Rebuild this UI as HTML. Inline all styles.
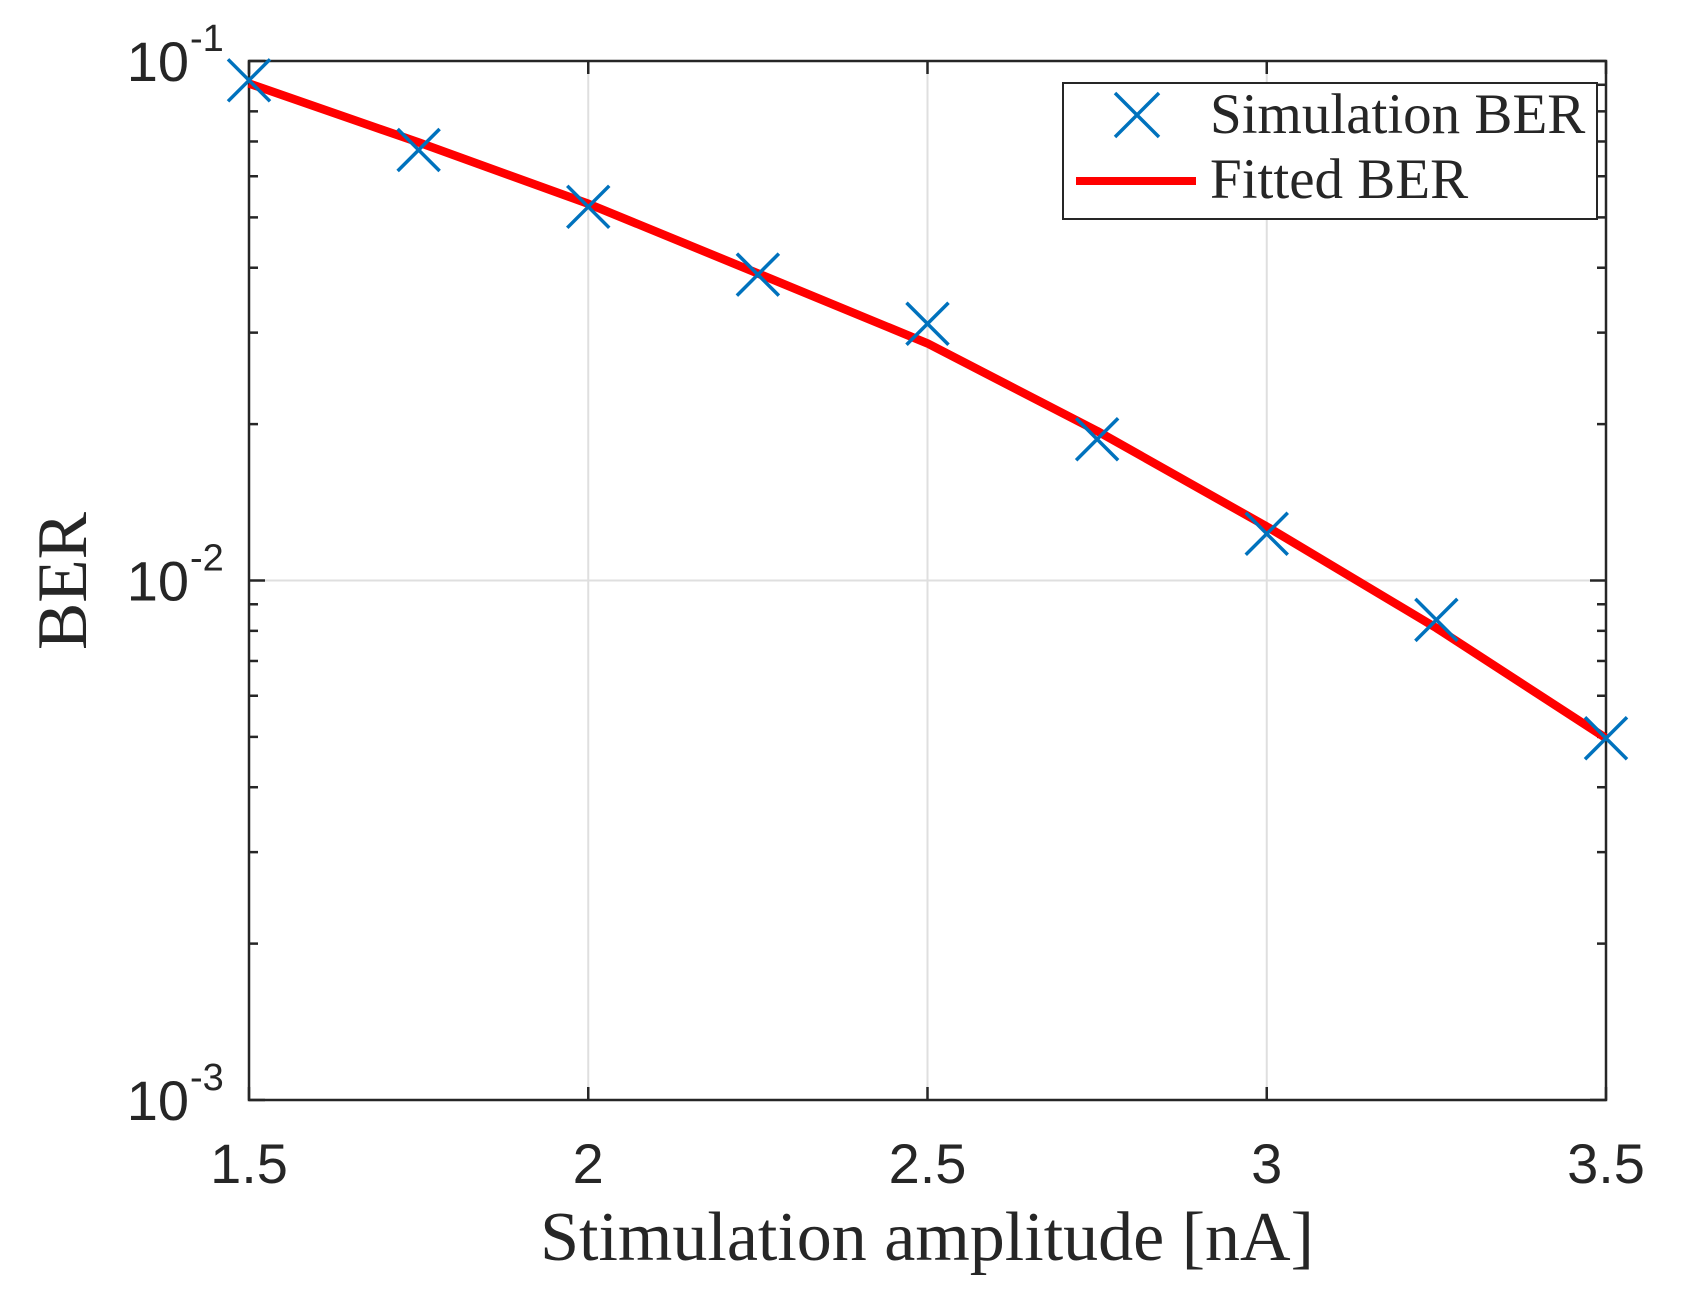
<!DOCTYPE html>
<html><head><meta charset="utf-8">
<style>
html,body{margin:0;padding:0;background:#fff;}
svg{display:block;}
.tick{font-family:"Liberation Sans",sans-serif;fill:#262626;}
.serif{font-family:"Liberation Serif",serif;fill:#262626;}
</style></head>
<body>
<svg id="chart" width="1682" height="1297" viewBox="0 0 1682 1297" xmlns="http://www.w3.org/2000/svg">
<rect width="1682" height="1297" fill="#fff"/>
<g id="grid"></g>
<g id="axes"></g>
<g id="series"></g>
<text class="serif" x="927" y="1260" font-size="70" text-anchor="middle">Stimulation amplitude [nA]</text>
<text class="serif" x="0" y="0" font-size="71" text-anchor="middle" transform="translate(86,581) rotate(-90)">BER</text>
<g>
<rect x="1063" y="83" width="534" height="136" fill="#fff" stroke="#262626" stroke-width="2"/>
<g>
<path d="M1115,93 L1159,137 M1115,137 L1159,93" stroke="#0072BD" stroke-width="3.5" fill="none"/>
<text class="serif" x="1210" y="133" font-size="57">Simulation BER</text>
</g>
<g>
<line x1="1076" y1="181" x2="1196" y2="181" stroke="#FF0000" stroke-width="8"/>
<text class="serif" x="1210" y="198" font-size="57">Fitted BER</text>
</g>
</g>
</svg>
<script>
const xCats = [1.5, 1.75, 2.0, 2.25, 2.5, 2.75, 3.0, 3.25, 3.5];
const simBER = [0.0918, 0.0674, 0.0524, 0.0388, 0.0312, 0.0187, 0.0123, 0.0084, 0.00497];
const fitBER = [0.0905, 0.0697, 0.0531, 0.039, 0.0286, 0.0194, 0.0127, 0.0081, 0.00497];
const xTicks = [1.5, 2, 2.5, 3, 3.5];
const xTickLabels = ["1.5", "2", "2.5", "3", "3.5"];
const yExps = [-1, -2, -3];

const L = 249, R = 1606, T = 61, B = 1100;
const xMin = 1.5, xMax = 3.5, yMinE = -3, yMaxE = -1;
function xs(v){ return L + (v - xMin) / (xMax - xMin) * (R - L); }
function ys(v){ return B - (Math.log10(v) - yMinE) / (yMaxE - yMinE) * (B - T); }
const NS = "http://www.w3.org/2000/svg";
function mk(tag, attrs, parent){ const e = document.createElementNS(NS, tag); for (const k in attrs) e.setAttribute(k, attrs[k]); parent.appendChild(e); return e; }
const grid = document.getElementById('grid'), axes = document.getElementById('axes'), series = document.getElementById('series');
const ax = '#262626';

xTicks.forEach((t, i) => {
  if (t === xMin || t === xMax) return;
  const g = mk('line', {x1: xs(t), x2: xs(t), y1: T, y2: B, stroke: '#dfdfdf', 'stroke-width': 2}, grid);
  
  
});
yExps.forEach(e => {
  const v = Math.pow(10, e);
  if (e === yMinE || e === yMaxE) return;
  const g = mk('line', {x1: L, x2: R, y1: ys(v), y2: ys(v), stroke: '#dfdfdf', 'stroke-width': 2}, grid);
  
  
});

const box = mk('rect', {x: L, y: T, width: R - L, height: B - T, fill: 'none', stroke: ax, 'stroke-width': 2.5}, axes);



xTicks.forEach((t, i) => {
  const x = xs(t);
  mk('line', {x1: x, x2: x, y1: B, y2: B - 13, stroke: ax, 'stroke-width': 2.5}, axes);
  mk('line', {x1: x, x2: x, y1: T, y2: T + 13, stroke: ax, 'stroke-width': 2.5}, axes);
  const lb = mk('text', {x: x, y: 1183, 'font-size': 56, 'text-anchor': 'middle', class: 'tick'}, axes);
  lb.textContent = xTickLabels[i];
  
  
});

for (let e = yMinE; e < yMaxE; e++) {
  for (let m = 2; m <= 9; m++) {
    const y = ys(m * Math.pow(10, e));
    mk('line', {x1: L, x2: L + 9, y1: y, y2: y, stroke: ax, 'stroke-width': 2.5}, axes);
    mk('line', {x1: R, x2: R - 9, y1: y, y2: y, stroke: ax, 'stroke-width': 2.5}, axes);
  }
}
yExps.forEach(e => {
  const y = ys(Math.pow(10, e));
  mk('line', {x1: L, x2: L + 16, y1: y, y2: y, stroke: ax, 'stroke-width': 2.5}, axes);
  mk('line', {x1: R, x2: R - 16, y1: y, y2: y, stroke: ax, 'stroke-width': 2.5}, axes);
  const lb = mk('text', {x: 189, y: y + 20, 'font-size': 56, 'text-anchor': 'end', class: 'tick'}, axes);
  lb.textContent = '10';
  
  
  const sup = mk('text', {x: 190, y: y - 10, 'font-size': 38, 'text-anchor': 'start', class: 'tick'}, axes);
  sup.textContent = '-' + (-e);
  
  
});

const pts = xCats.map((x, i) => xs(x).toFixed(1) + ',' + ys(fitBER[i]).toFixed(1)).join(' ');
const pl = mk('polyline', {points: pts, fill: 'none', stroke: '#FF0000', 'stroke-width': 8.5, 'stroke-linejoin': 'round'}, series);



const s = 21;
xCats.forEach((x, i) => {
  const cx = xs(x), cy = ys(simBER[i]);
  const p = mk('path', {d: `M${cx-s},${cy-s} L${cx+s},${cy+s} M${cx-s},${cy+s} L${cx+s},${cy-s}`, stroke: '#0072BD', 'stroke-width': 3.5, fill: 'none'}, series);
  
  
});
</script>
</body></html>
